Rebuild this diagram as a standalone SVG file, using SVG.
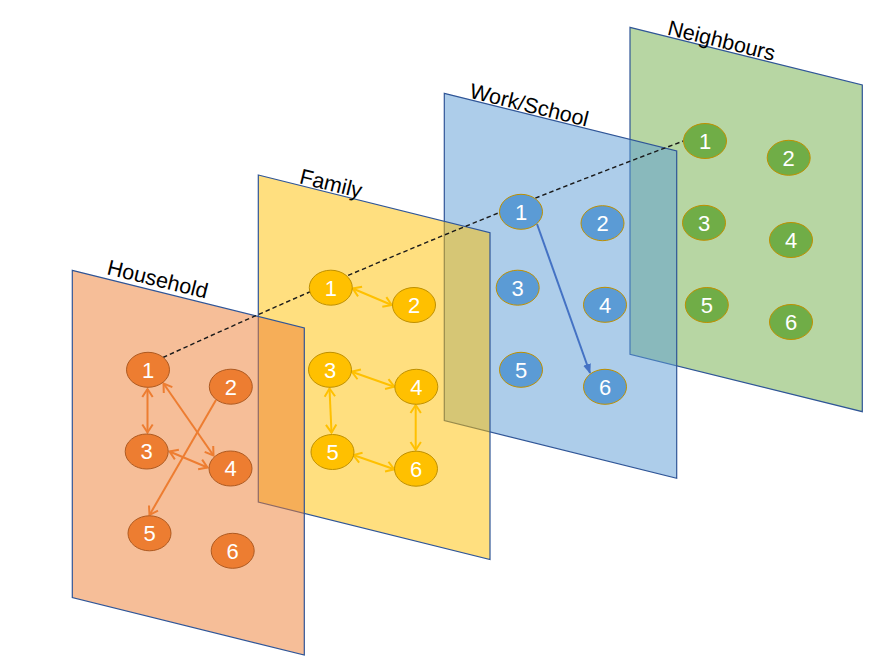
<svg xmlns="http://www.w3.org/2000/svg" width="877" height="662" viewBox="0 0 877 662">
<style>
  .panel { stroke: #2F5597; stroke-width: 1.2; fill-opacity: 0.5; }
  .lbl { font-family: "Liberation Sans", Arial, sans-serif; font-size: 21.5px; fill: #000; }
  .num { font-family: "Liberation Sans", Arial, sans-serif; font-size: 22px; fill: #fff; text-anchor: middle; }
  .hn { fill: #ED7D31; stroke: #AE5A21; stroke-width: 1; }
  .fn { fill: #FFC000; stroke: #BF9000; stroke-width: 1; }
  .wn { fill: #5B9BD5; stroke: #BF9000; stroke-width: 1; }
  .nn { fill: #70AD47; stroke: #BF9000; stroke-width: 1; }
  .ha { stroke: #ED7D31; stroke-width: 2; fill: none; marker-end: url(#oarr); }
  .fa { stroke: #FFC000; stroke-width: 2; fill: none; marker-start: url(#garr); marker-end: url(#garr); }
</style>
<defs>
  <marker id="oarr" markerUnits="userSpaceOnUse" viewBox="0 0 14 14" markerWidth="14" markerHeight="14" refX="11" refY="7" orient="auto-start-reverse">
    <path d="M3,1.8 L11,7 L3,12.2" fill="none" stroke="#ED7D31" stroke-width="2"/>
  </marker>
  <marker id="garr" markerUnits="userSpaceOnUse" viewBox="0 0 14 14" markerWidth="14" markerHeight="14" refX="11" refY="7" orient="auto-start-reverse">
    <path d="M3,1.8 L11,7 L3,12.2" fill="none" stroke="#FFC000" stroke-width="2"/>
  </marker>
  <marker id="barr" markerUnits="userSpaceOnUse" viewBox="0 0 12 12" markerWidth="12" markerHeight="12" refX="9" refY="6" orient="auto">
    <path d="M0,2 L10,6 L0,10 z" fill="#4472C4"/>
  </marker>
</defs>

<g id="layer-neighbours">
  <polygon class="panel" fill="#70AD47" points="630,27.3 862.3,85 862.3,411.7 630,354.3"/>
  <text class="lbl" transform="translate(666.5,34.5) rotate(13.9)">Neighbours</text>
</g>
<g id="layer-work">
  <polygon class="panel" fill="#5B9BD5" points="444.3,93.3 676.7,151 676.7,478.3 444.3,420.5"/>
  <text class="lbl" transform="translate(468.5,97.5) rotate(13.9)">Work/School</text>
</g>
<g id="layer-family">
  <polygon class="panel" fill="#FFC000" points="258.3,175 490,232.7 490,559.5 258.3,502"/>
  <text class="lbl" transform="translate(298.5,183) rotate(13.9)">Family</text>
</g>
<g id="layer-household">
  <polygon class="panel" fill="#ED7D31" points="72.3,270.3 304.3,328 304.3,655 72.3,597.5"/>
  <text class="lbl" transform="translate(106,274) rotate(13.9)">Household</text>
</g>

<g id="connectors">
  <path d="M163,357.5 Q419.5,239.8 683.5,141" fill="none" stroke="#1A1A1A" stroke-width="1.4" stroke-dasharray="4.5 3"/>
  <line class="ha" x1="147.5" y1="389" x2="147.5" y2="432.5" style="marker-start:url(#oarr)"/>
  <line class="ha" x1="163.5" y1="383.5" x2="213.5" y2="455.5" style="marker-start:url(#oarr)"/>
  <line class="ha" x1="169.5" y1="451.5" x2="207.5" y2="467.5" style="marker-start:url(#oarr)"/>
  <line class="ha" x1="216" y1="400" x2="149.5" y2="515"/>
  <line class="fa" x1="352.7" y1="288.5" x2="391.7" y2="305"/>
  <line class="fa" x1="351.7" y1="371.7" x2="394.3" y2="386.7"/>
  <line class="fa" x1="329.5" y1="388.5" x2="331.5" y2="432.7"/>
  <line class="fa" x1="415.7" y1="405" x2="415.7" y2="450"/>
  <line class="fa" x1="353.3" y1="455" x2="394.3" y2="469.3"/>
  <line x1="537" y1="224" x2="590" y2="373" stroke="#4472C4" stroke-width="2" marker-end="url(#barr)"/>
</g>

<g id="h1"><ellipse class="hn" cx="148" cy="369.8" rx="21.5" ry="17.5"/><text class="num" x="148" y="377.6">1</text></g>
<g id="h2"><ellipse class="hn" cx="230.8" cy="386.7" rx="21.5" ry="17.5"/><text class="num" x="230.8" y="394.5">2</text></g>
<g id="h3"><ellipse class="hn" cx="146.7" cy="451.5" rx="21.5" ry="17.5"/><text class="num" x="146.7" y="459.3">3</text></g>
<g id="h4"><ellipse class="hn" cx="230.5" cy="468.5" rx="21.5" ry="17.5"/><text class="num" x="230.5" y="476.3">4</text></g>
<g id="h5"><ellipse class="hn" cx="149.5" cy="533.3" rx="21.5" ry="17.5"/><text class="num" x="149.5" y="541.1">5</text></g>
<g id="h6"><ellipse class="hn" cx="232.7" cy="550.8" rx="21.5" ry="17.5"/><text class="num" x="232.7" y="558.6">6</text></g>

<g id="f1"><ellipse class="fn" cx="330.8" cy="287.7" rx="21.5" ry="17.5"/><text class="num" x="330.8" y="295.5">1</text></g>
<g id="f2"><ellipse class="fn" cx="414" cy="305" rx="21.5" ry="17.5"/><text class="num" x="414" y="312.8">2</text></g>
<g id="f3"><ellipse class="fn" cx="330" cy="369.8" rx="21.5" ry="17.5"/><text class="num" x="330" y="377.6">3</text></g>
<g id="f4"><ellipse class="fn" cx="416.3" cy="386.8" rx="21.5" ry="17.5"/><text class="num" x="416.3" y="394.6">4</text></g>
<g id="f5"><ellipse class="fn" cx="332.5" cy="452" rx="21.5" ry="17.5"/><text class="num" x="332.5" y="459.8">5</text></g>
<g id="f6"><ellipse class="fn" cx="416" cy="468.7" rx="21.5" ry="17.5"/><text class="num" x="416" y="476.5">6</text></g>

<g id="w1"><ellipse class="wn" cx="521" cy="211.8" rx="21.5" ry="17.5"/><text class="num" x="521" y="219.6">1</text></g>
<g id="w2"><ellipse class="wn" cx="602.5" cy="223.2" rx="21.5" ry="17.5"/><text class="num" x="602.5" y="231">2</text></g>
<g id="w3"><ellipse class="wn" cx="517.7" cy="287.7" rx="21.5" ry="17.5"/><text class="num" x="517.7" y="295.5">3</text></g>
<g id="w4"><ellipse class="wn" cx="605" cy="304.8" rx="21.5" ry="17.5"/><text class="num" x="605" y="312.6">4</text></g>
<g id="w5"><ellipse class="wn" cx="521" cy="369.8" rx="21.5" ry="17.5"/><text class="num" x="521" y="377.6">5</text></g>
<g id="w6"><ellipse class="wn" cx="605" cy="386.8" rx="21.5" ry="17.5"/><text class="num" x="605" y="394.6">6</text></g>

<g id="n1"><ellipse class="nn" cx="705" cy="141" rx="21.5" ry="17.5"/><text class="num" x="705" y="148.8">1</text></g>
<g id="n2"><ellipse class="nn" cx="788.7" cy="157.8" rx="21.5" ry="17.5"/><text class="num" x="788.7" y="165.6">2</text></g>
<g id="n3"><ellipse class="nn" cx="704" cy="222.8" rx="21.5" ry="17.5"/><text class="num" x="704" y="230.6">3</text></g>
<g id="n4"><ellipse class="nn" cx="791" cy="240" rx="21.5" ry="17.5"/><text class="num" x="791" y="247.8">4</text></g>
<g id="n5"><ellipse class="nn" cx="706.8" cy="305" rx="21.5" ry="17.5"/><text class="num" x="706.8" y="312.8">5</text></g>
<g id="n6"><ellipse class="nn" cx="791" cy="322" rx="21.5" ry="17.5"/><text class="num" x="791" y="329.8">6</text></g>
</svg>
